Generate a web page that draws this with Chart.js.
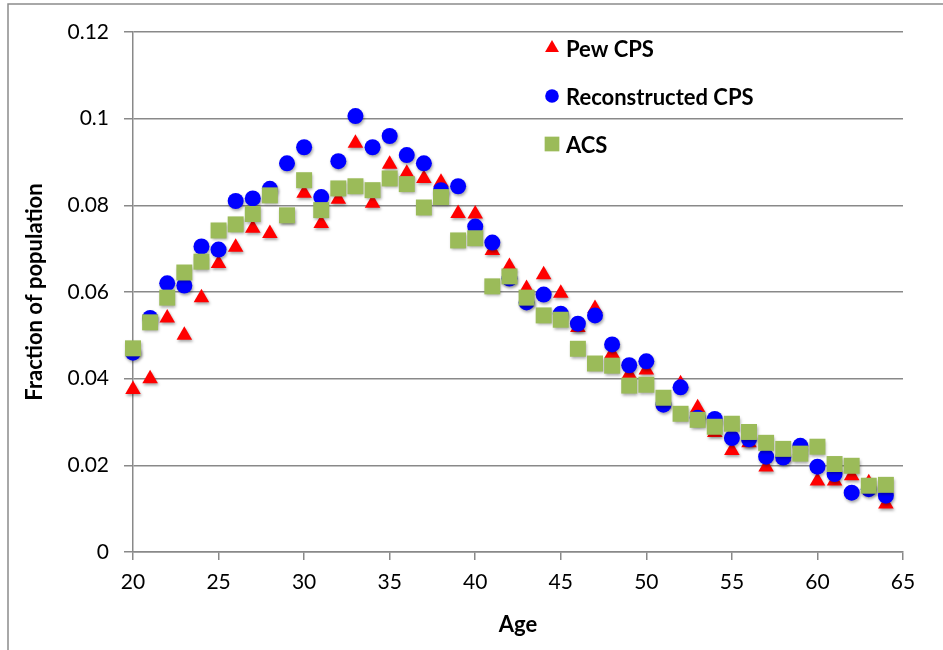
<!DOCTYPE html>
<html>
<head>
<meta charset="utf-8">
<title>Age distribution</title>
<script src="https://cdn.jsdelivr.net/npm/chart.js@4/dist/chart.umd.min.js"></script>
<style>
  html, body { margin: 0; padding: 0; background: #fff; }
  #wrap { width: 943px; height: 650px; }
</style>
</head>
<body>
<div id="wrap"><canvas id="ages" width="943" height="650"></canvas></div>
<script>
// Share of population by single year of age, three sources
const ages = [20, 21, 22, 23, 24, 25, 26, 27, 28, 29, 30, 31, 32, 33, 34, 35, 36, 37, 38, 39, 40, 41,
  42, 43, 44, 45, 46, 47, 48, 49, 50, 51, 52, 53, 54, 55, 56, 57, 58, 59, 60, 61, 62, 63, 64];

const pewCps = [0.0375, 0.040, 0.054, 0.050, 0.0587, 0.0666, 0.0703, 0.0747, 0.0735, 0.077, 0.0828,
  0.0758, 0.0814, 0.0943, 0.0805, 0.0895, 0.0874, 0.0862, 0.0853, 0.0781, 0.078, 0.0696, 0.0659,
  0.0608, 0.064, 0.0597, 0.0518, 0.0562, 0.0458, 0.041, 0.042, 0.0345, 0.0388, 0.0333, 0.0276,
  0.0234, 0.0252, 0.0196, 0.022, 0.0235, 0.0164, 0.0164, 0.0176, 0.016, 0.0111];

const reconCps = [0.046, 0.054, 0.062, 0.0615, 0.0705, 0.0698, 0.081, 0.0816, 0.0838, 0.0897, 0.0934,
  0.0819, 0.0902, 0.1006, 0.0934, 0.096, 0.0916, 0.0897, 0.0835, 0.0844, 0.0751, 0.0714, 0.0631,
  0.0576, 0.0594, 0.055, 0.0527, 0.0546, 0.0479, 0.0431, 0.044, 0.034, 0.038, 0.031, 0.0307,
  0.0263, 0.026, 0.022, 0.0218, 0.0245, 0.0197, 0.018, 0.0137, 0.0145, 0.013];

const acs = [0.047, 0.053, 0.0587, 0.0645, 0.067, 0.0742, 0.0756, 0.078, 0.0823, 0.0777, 0.0858,
  0.0789, 0.0839, 0.0844, 0.0835, 0.0862, 0.0849, 0.0795, 0.0819, 0.0719, 0.0724, 0.0613, 0.0636,
  0.0587, 0.0546, 0.0536, 0.0469, 0.0435, 0.043, 0.0384, 0.0386, 0.0356, 0.0319, 0.0305, 0.0289,
  0.0296, 0.0277, 0.0252, 0.0238, 0.0227, 0.0243, 0.0203, 0.0199, 0.0153, 0.0155];

const yTickLabels = ['0', '0.02', '0.04', '0.06', '0.08', '0.1', '0.12'];
const xTickLabels = ['20', '25', '30', '35', '40', '45', '50', '55', '60', '65'];

const FONT = 'Lato, "Open Sans", sans-serif';
const GRID = '#898989';

const pts = vals => ages.map((a, i) => ({ x: a, y: vals[i] }));

// soft drop shadow under the markers
const markerShadow = {
  id: 'markerShadow',
  beforeDatasetsDraw(chart) {
    const ctx = chart.ctx;
    ctx.save();
    ctx.shadowColor = 'rgba(0,0,0,0.35)';
    ctx.shadowBlur = 3;
    ctx.shadowOffsetX = 1;
    ctx.shadowOffsetY = 2;
  },
  afterDatasetsDraw(chart) { chart.ctx.restore(); }
};

// legend inside the plot, top centre-right
const innerLegend = {
  id: 'innerLegend',
  afterDraw(chart) {
    const ctx = chart.ctx;
    const items = [
      { ds: 0, r: 8, y: 48 },
      { ds: 1, r: 6.8, y: 96 },
      { ds: 2, r: 10.4, y: 144 }
    ];
    ctx.save();
    items.forEach(it => {
      const d = chart.data.datasets[it.ds];
      ctx.fillStyle = d.backgroundColor;
      ctx.strokeStyle = d.backgroundColor;
      ctx.lineWidth = 0;
      Chart.helpers.drawPoint(ctx, { pointStyle: d.pointStyle, radius: it.r, borderWidth: 0 }, 552, it.y);
      ctx.fillStyle = '#000';
      ctx.font = 'bold 22px ' + FONT;
      ctx.textBaseline = 'middle';
      ctx.textAlign = 'left';
      ctx.fillText(d.label, 566, it.y + 2);
    });
    ctx.restore();
  }
};

// thin frame along the left and top of the picture
const frame = {
  id: 'frame',
  beforeDraw(chart) {
    const ctx = chart.ctx;
    ctx.save();
    ctx.strokeStyle = '#8c8c8c';
    ctx.lineWidth = 1.5;
    ctx.beginPath();
    ctx.moveTo(8, 650);
    ctx.lineTo(8, 4);
    ctx.lineTo(943, 4);
    ctx.stroke();
    ctx.restore();
  }
};

new Chart(document.getElementById('ages'), {
  type: 'scatter',
  data: {
    datasets: [
      { label: 'Pew CPS', data: pts(pewCps), pointStyle: 'triangle', pointRadius: 9,
        backgroundColor: '#ff0000', borderColor: '#ff0000', borderWidth: 0, order: 2, clip: false },
      { label: 'Reconstructed CPS', data: pts(reconCps), pointStyle: 'circle', pointRadius: 8,
        backgroundColor: '#0000ff', borderColor: '#0000ff', borderWidth: 0, order: 1, clip: false },
      { label: 'ACS', data: pts(acs), pointStyle: 'rect', pointRadius: 11.3,
        backgroundColor: '#9bbb59', borderColor: '#9bbb59', borderWidth: 0, order: 0, clip: false }
    ]
  },
  options: {
    responsive: false,
    animation: false,
    layout: { padding: { top: 32, right: 40, left: 0, bottom: 0 } },
    plugins: { legend: { display: false }, tooltip: { enabled: false } },
    scales: {
      x: {
        type: 'linear', min: 20, max: 65,
        afterFit: s => { s.height = 98; },
        ticks: {
          stepSize: 5, autoSkip: false, maxRotation: 0, padding: 10, color: '#000',
          font: { family: FONT, size: 21 },
          callback: (v, i) => xTickLabels[i]
        },
        grid: { drawOnChartArea: false, drawTicks: true, tickLength: 8, color: GRID, lineWidth: 1.5 },
        border: { display: true, color: GRID, width: 1.5 },
        title: { display: true, text: 'Age', color: '#000',
          font: { family: FONT, size: 22, weight: 'bold' }, padding: { top: 0, bottom: 12 } }
      },
      y: {
        type: 'linear', min: 0, max: 0.12,
        afterFit: s => { s.width = 133; },
        ticks: {
          stepSize: 0.02, padding: 15, color: '#000',
          font: { family: FONT, size: 21 },
          callback: (v, i) => yTickLabels[i]
        },
        grid: { drawOnChartArea: true, drawTicks: true, tickLength: 9, color: GRID, lineWidth: 1.5 },
        border: { display: true, color: GRID, width: 1.5 },
        title: { display: true, text: 'Fraction of population', color: '#000',
          font: { family: FONT, size: 22, weight: 'bold' }, padding: { top: 22, bottom: 0 } }
      }
    }
  },
  plugins: [frame, markerShadow, innerLegend]
});
</script>
</body>
</html>
